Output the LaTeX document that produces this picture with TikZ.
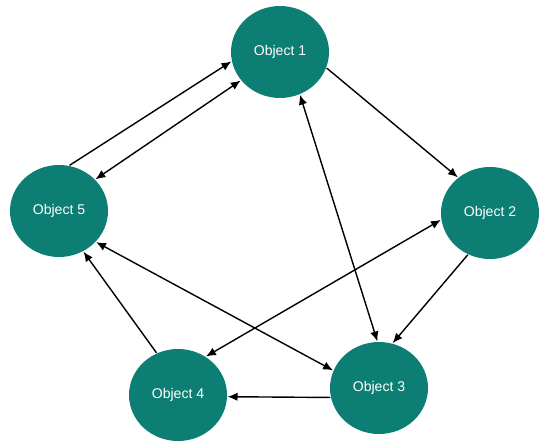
\documentclass[tikz,border=0pt]{standalone}
\usepackage{fontspec}
\setsansfont{Liberation Sans}
\usepackage{tikz}
\usetikzlibrary{shapes.geometric, arrows.meta}

\definecolor{objteal}{RGB}{12,126,116}

\begin{document}
\begin{tikzpicture}[>={Latex[length=7pt, width=6pt]}, line width=1pt,
    obj/.style={ellipse, fill=objteal, inner sep=0pt, minimum width=2.45cm, minimum height=2.3cm,
        text=white, font=\sffamily\fontsize{10}{12}\selectfont}]
    \useasboundingbox (0,0) rectangle (13.775,11.025);

    \node[obj] (o1) at (7.0,9.725) {Object 1};
    \node[obj] (o2) at (12.25,5.7) {Object 2};
    \node[obj] (o3) at (9.475,1.325) {Object 3};
    \node[obj] (o4) at (4.45,1.15) {Object 4};
    \node[obj] (o5) at (1.475,5.75) {Object 5};

    \draw[->] (o5.77) -- (o1.191);
    \draw[<->] (o1.216) -- (o5.41);
    \draw[->] (o1.341) -- (o2.132);
    \draw[<->] (o1.295) -- (o3.92);
    \draw[->] (o2.242) -- (o3.73);
    \draw[<->] (o2.188) -- (o4.54);
    \draw[<->] (o5.320) -- (o3.159);
    \draw[->] (o4.117) -- (o5.301);
    \draw[->] (o3.191) -- (o4.358);
\end{tikzpicture}
\end{document}
